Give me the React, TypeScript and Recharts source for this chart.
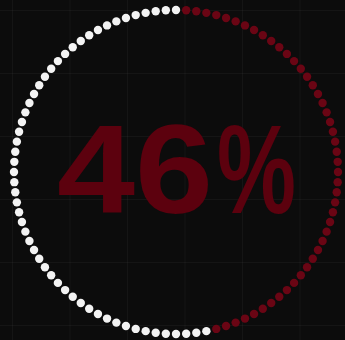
import React from "react";
import { PieChart, Pie, Cell, Label } from "recharts";

const TOTAL_DOTS = 100;
const FILLED_DOTS = 46;
const VALUE_NUMBER = "46";
const VALUE_UNIT = "%";
const FILLED_COLOR = "#6a0514";
const EMPTY_COLOR = "#f3f3f3";
const TEXT_COLOR = "#5c010e";

const dotData = Array.from({ length: TOTAL_DOTS }, (_, i) => ({
  name: `dot-${i}`,
  value: 1,
  filled: i < FILLED_DOTS,
}));

const RADIAN = Math.PI / 180;

const renderDot = (props: any) => {
  const { cx, cy, midAngle, outerRadius, index, payload } = props;
  const x = cx + outerRadius * Math.cos(-midAngle * RADIAN);
  const y = cy + outerRadius * Math.sin(-midAngle * RADIAN);
  const filled = payload && payload.filled !== undefined ? payload.filled : index < FILLED_DOTS;
  return (
    <circle
      key={`dot-${index}`}
      cx={x}
      cy={y}
      r={4.2}
      fill={filled ? FILLED_COLOR : EMPTY_COLOR}
    />
  );
};

const CenterText = (props: any) => {
  const { viewBox } = props;
  const cx = viewBox?.cx ?? 176;
  const cy = viewBox?.cy ?? 172;
  const common = {
    fill: TEXT_COLOR,
    fontFamily: "'Liberation Sans', Arial, sans-serif",
    fontWeight: 700,
    fontSize: 127,
    lengthAdjust: "spacingAndGlyphs" as const,
  };
  return (
    <g>
      <text x={cx - 119} y={cy + 41} textAnchor="start" textLength={156} {...common}>
        {VALUE_NUMBER}
      </text>
      <text x={cx + 41} y={cy + 41} textAnchor="start" textLength={79} {...common}>
        {VALUE_UNIT}
      </text>
    </g>
  );
};

export default function App() {
  return (
    <div
      style={{
        position: "absolute",
        left: 0,
        top: 0,
        width: 345,
        height: 340,
        backgroundColor: "#0c0c0c",
        backgroundImage:
          "linear-gradient(to right, rgba(255,255,255,0.035) 1px, transparent 1px), linear-gradient(to bottom, rgba(255,255,255,0.035) 1px, transparent 1px)",
        backgroundSize: "57.5px 63px",
        backgroundPosition: "12px 10px",
        overflow: "hidden",
      }}
    >
      <PieChart width={345} height={340} margin={{ top: 0, right: 0, bottom: 0, left: 0 }}>
        <Pie
          data={dotData}
          dataKey="value"
          nameKey="name"
          cx={176}
          cy={172}
          innerRadius={160}
          outerRadius={162}
          startAngle={88.2}
          endAngle={-271.8}
          stroke="none"
          label={renderDot}
          labelLine={false}
          isAnimationActive={false}
        >
          {dotData.map((d) => (
            <Cell key={d.name} fill="transparent" stroke="none" />
          ))}
          <Label position="center" content={<CenterText />} />
        </Pie>
      </PieChart>
    </div>
  );
}
